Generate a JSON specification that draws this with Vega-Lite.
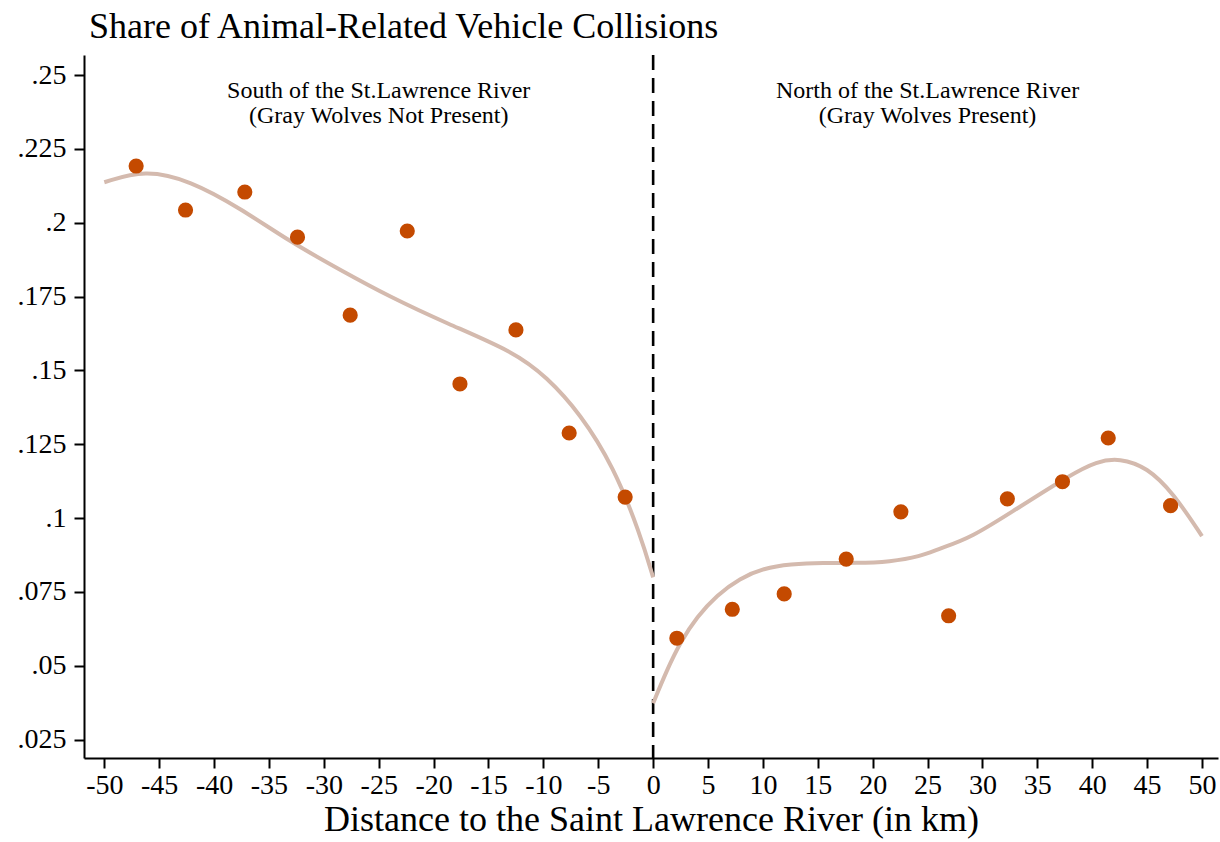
{
  "$schema": "https://vega.github.io/schema/vega-lite/v6.json",
  "autosize": {"type": "none"},
  "padding": {"left": 84, "top": 55, "right": 2, "bottom": 84},
  "width": 1134,
  "height": 703,
  "background": "white",
  "config": {
    "view": {"stroke": null},
    "font": "Liberation Serif",
    "axis": {"grid": false, "domainColor": "black", "domainWidth": 2, "tickColor": "black", "tickWidth": 2, "tickSize": 10, "labelColor": "black", "titleColor": "black", "labelFont": "Liberation Serif", "titleFont": "Liberation Serif", "titleFontWeight": "normal"}
  },
  "title": {"text": "Share of Animal-Related Vehicle Collisions", "anchor": "start", "frame": "group", "fontSize": 36, "fontWeight": "normal", "font": "Liberation Serif", "color": "black", "dx": 5, "offset": 8},
  "datasets": {
    "points": [
      {"x": -47.1, "y": 0.2192}, {"x": -42.6, "y": 0.2043}, {"x": -37.2, "y": 0.2104}, {"x": -32.4, "y": 0.1951}, {"x": -27.6, "y": 0.1687},
      {"x": -22.4, "y": 0.1972}, {"x": -17.6, "y": 0.1454}, {"x": -12.5, "y": 0.1637}, {"x": -7.65, "y": 0.1288}, {"x": -2.55, "y": 0.1071},
      {"x": 2.16, "y": 0.0593}, {"x": 7.21, "y": 0.0691}, {"x": 11.94, "y": 0.0743}, {"x": 17.59, "y": 0.0861}, {"x": 22.57, "y": 0.1021},
      {"x": 26.92, "y": 0.0669}, {"x": 32.27, "y": 0.1065}, {"x": 37.29, "y": 0.1123}, {"x": 41.46, "y": 0.1271}, {"x": 47.14, "y": 0.1042}
    ],
    "fit": [
      {"side": "south", "x": -50.0, "y": 0.2137}, {"side": "south", "x": -46.3, "y": 0.2180}, {"side": "south", "x": -42.2, "y": 0.2143},
      {"side": "south", "x": -37.6, "y": 0.2049}, {"side": "south", "x": -33.1, "y": 0.1936}, {"side": "south", "x": -28.5, "y": 0.1840},
      {"side": "south", "x": -24.0, "y": 0.1749}, {"side": "south", "x": -18.8, "y": 0.1659}, {"side": "south", "x": -12.7, "y": 0.1563},
      {"side": "south", "x": -9.7, "y": 0.1478}, {"side": "south", "x": -6.65, "y": 0.1354}, {"side": "south", "x": -3.6, "y": 0.1174},
      {"side": "south", "x": -1.2, "y": 0.0948}, {"side": "south", "x": 0.0, "y": 0.0799},
      {"side": "north", "x": 0.0, "y": 0.0373}, {"side": "north", "x": 1.25, "y": 0.0485}, {"side": "north", "x": 2.5, "y": 0.0581},
      {"side": "north", "x": 4.0, "y": 0.0666}, {"side": "north", "x": 5.8, "y": 0.0739}, {"side": "north", "x": 7.9, "y": 0.0796},
      {"side": "north", "x": 10.05, "y": 0.0830}, {"side": "north", "x": 12.5, "y": 0.0844}, {"side": "north", "x": 15.5, "y": 0.0849},
      {"side": "north", "x": 18.5, "y": 0.0847}, {"side": "north", "x": 21.6, "y": 0.0852}, {"side": "north", "x": 24.3, "y": 0.0869},
      {"side": "north", "x": 26.1, "y": 0.0897}, {"side": "north", "x": 28.9, "y": 0.0931}, {"side": "north", "x": 33.4, "y": 0.1038},
      {"side": "north", "x": 38.0, "y": 0.1146}, {"side": "north", "x": 40.4, "y": 0.1192}, {"side": "north", "x": 42.5, "y": 0.1203},
      {"side": "north", "x": 45.0, "y": 0.1172}, {"side": "north", "x": 47.4, "y": 0.1084}, {"side": "north", "x": 50.0, "y": 0.0939}
    ],
    "labels": [
      {"x": -25, "y": 0.2424, "label": "South of the St.Lawrence River"},
      {"x": -25, "y": 0.2339, "label": "(Gray Wolves Not Present)"},
      {"x": 25, "y": 0.2424, "label": "North of the St.Lawrence River"},
      {"x": 25, "y": 0.2339, "label": "(Gray Wolves Present)"}
    ],
    "cutoff": [{"x": 0}]
  },
  "encoding": {
    "x": {"field": "x", "type": "quantitative",
      "scale": {"domain": [-51.85, 51.46], "nice": false, "zero": false},
      "axis": {"title": "Distance to the Saint Lawrence River (in km)", "values": [-50,-45,-40,-35,-30,-25,-20,-15,-10,-5,0,5,10,15,20,25,30,35,40,45,50],
        "labelExpr": "datum.value < 0 ? '-' + abs(datum.value) : '' + datum.value", "labelFontSize": 28, "labelPadding": 3, "titleFontSize": 36, "titlePadding": 3, "labelFlush": false}},
    "y": {"field": "y", "type": "quantitative",
      "scale": {"domain": [0.01874, 0.2568], "nice": false, "zero": false},
      "axis": {"title": null, "values": [0.025,0.05,0.075,0.1,0.125,0.15,0.175,0.2,0.225,0.25],
        "labelExpr": "slice(format(datum.value, '.3~f'), 1)", "labelFontSize": 28, "labelPadding": 8}}
  },
  "layer": [
    {"data": {"name": "cutoff"}, "mark": {"type": "rule", "color": "black", "strokeWidth": 2.6, "strokeDash": [15, 8]},
      "encoding": {"x": {"field": "x", "type": "quantitative"}, "y": null}},
    {"data": {"name": "fit"}, "mark": {"type": "line", "color": "#D4BAAE", "strokeWidth": 4, "interpolate": "basis"},
      "encoding": {"detail": {"field": "side", "type": "nominal"}}},
    {"data": {"name": "points"}, "mark": {"type": "circle", "color": "#C44A00", "opacity": 1, "size": 230}},
    {"data": {"name": "labels"}, "mark": {"type": "text", "fontSize": 24, "color": "black", "align": "center", "baseline": "alphabetic", "font": "Liberation Serif"},
      "encoding": {"text": {"field": "label", "type": "nominal"}}}
  ]
}
